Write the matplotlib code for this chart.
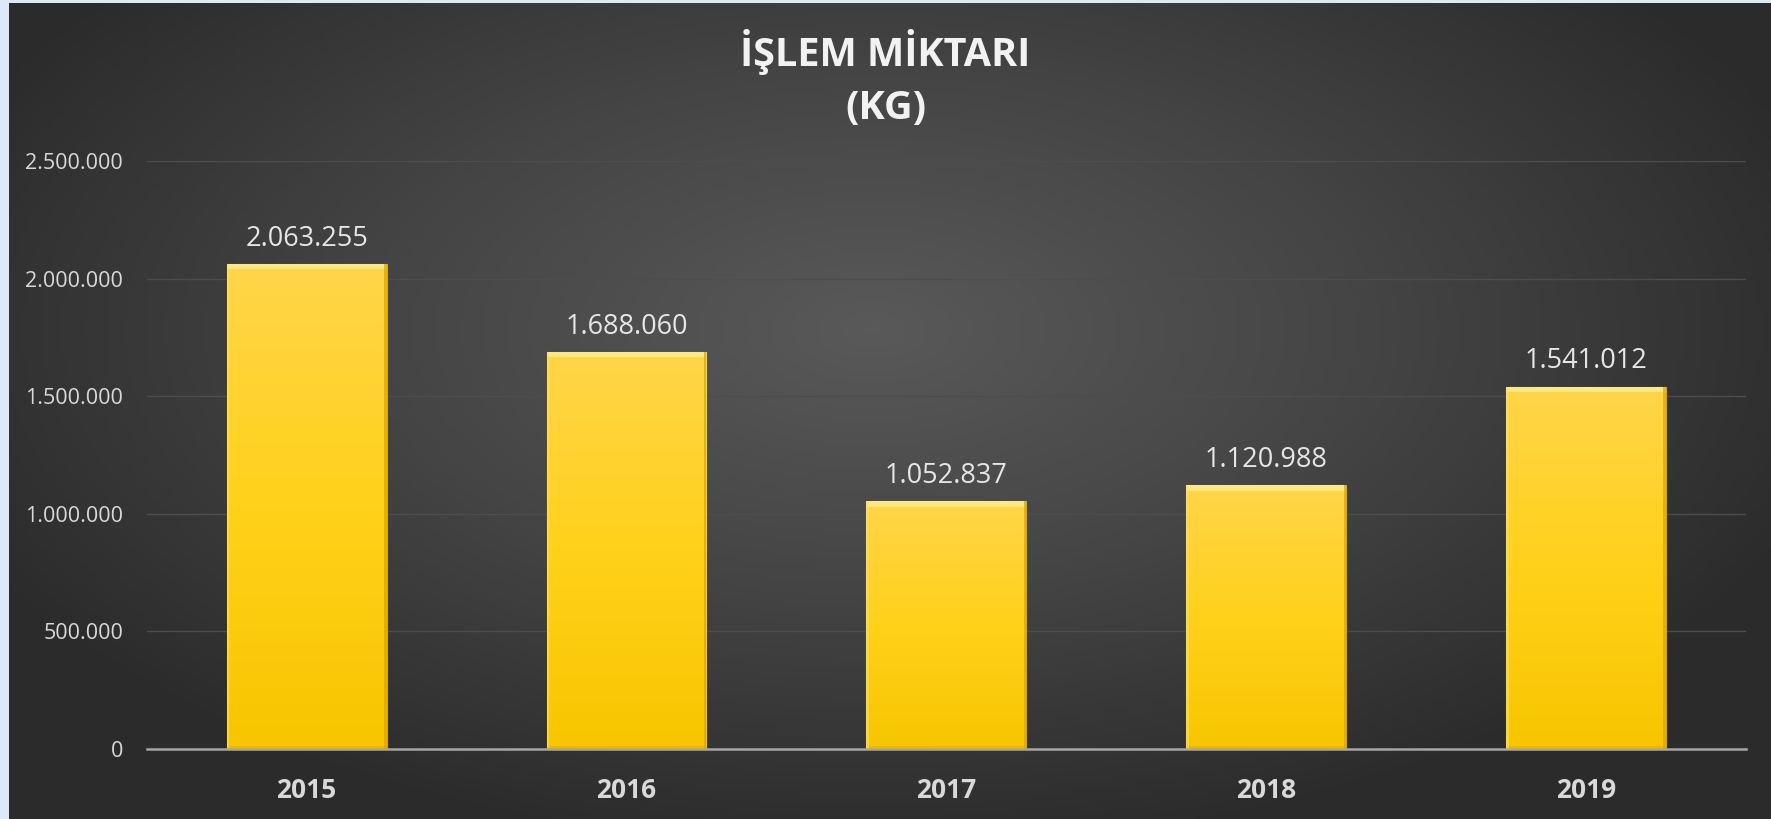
import numpy as np
import matplotlib
matplotlib.use("Agg")
import matplotlib.pyplot as plt
from matplotlib.colors import LinearSegmentedColormap

years = ["2015", "2016", "2017", "2018", "2019"]
amounts = [2063255, 1688060, 1052837, 1120988, 1541012]
yticks = [0, 500000, 1000000, 1500000, 2000000, 2500000]
title = "İŞLEM MİKTARI\n(KG)"

plt.rcParams["font.family"] = ["Open Sans", "DejaVu Sans"]


def tr_fmt(v):
    return f"{int(v):,}".replace(",", ".")


W, H = 1771, 819
fig = plt.figure(figsize=(W / 100, H / 100), dpi=100)
fig.patch.set_facecolor("#dde9f6")

# dark radial gradient background
bg = fig.add_axes([9 / W, 0, 1 - 9 / W, 1 - 3 / H], zorder=-5)
gx, gy = np.meshgrid(np.linspace(-1, 1, 400), np.linspace(-1, 1, 200))
r = np.sqrt(((gx + 0.02) / 1.15) ** 2 + ((gy + 0.2) / 1.3) ** 2)
r = np.clip(r, 0, 1)
bg_cmap = LinearSegmentedColormap.from_list("bg", ["#595959", "#444444", "#2b2b2b"])
bg.imshow(r, cmap=bg_cmap, aspect="auto", extent=[0, 1, 0, 1], origin="upper")
bg.set_axis_off()

ax = fig.add_axes([146.7 / W, 1 - 749 / H, (1746 - 146.7) / W, (749 - 161) / H])
ax.set_facecolor("none")
x = np.arange(len(years))
bars = ax.bar(x, amounts, width=0.5, color="#ffcc00", edgecolor="#d9a800", linewidth=0.8, zorder=3)

bar_cmap = LinearSegmentedColormap.from_list("gold", ["#ffd54a", "#ffd11a", "#f7c600"])
grad = np.linspace(0, 1, 256).reshape(-1, 1)
for b in bars:
    x0, w, h = b.get_x(), b.get_width(), b.get_height()
    im = ax.imshow(grad, cmap=bar_cmap, aspect="auto", extent=[x0, x0 + w, 0, h],
                   origin="upper", zorder=3.5)
    im.set_clip_path(b)
    # bevel edges
    ax.add_patch(plt.Rectangle((x0, h - 22000), w, 22000, facecolor="#ffe97a",
                               edgecolor="none", zorder=4))
    ax.add_patch(plt.Rectangle((x0, 0), w, 14000, facecolor="#e0b000",
                               edgecolor="none", alpha=0.6, zorder=4))
    ax.add_patch(plt.Rectangle((x0 + w - 0.008, 0), 0.008, h, facecolor="#d9a400",
                               edgecolor="none", alpha=0.7, zorder=4))
    ax.add_patch(plt.Rectangle((x0, 0), 0.008, h, facecolor="#ffe066",
                               edgecolor="none", alpha=0.6, zorder=4))
    ax.text(x0 + w / 2, h + 47000, tr_fmt(h), ha="center", va="bottom",
            color="#e6e6e6", fontsize=19.5)

ax.set_xlim(-0.5, len(years) - 0.5)
ax.set_ylim(0, 2500000)
ax.set_yticks(yticks)
ax.set_yticklabels([tr_fmt(v) for v in yticks], color="#d9d9d9", fontsize=15.5)
ax.set_xticks(x)
ax.set_xticklabels(years, color="#d9d9d9", fontsize=19, fontweight="bold")
ax.tick_params(axis="both", length=0)
ax.tick_params(axis="y", pad=17)
ax.tick_params(axis="x", pad=20)
ax.grid(axis="y", color="#4d4d4d", linewidth=1, zorder=0)
for s in ["top", "right", "left"]:
    ax.spines[s].set_visible(False)
ax.spines["bottom"].set_color("#a6a6a6")
ax.spines["bottom"].set_linewidth(1.8)
ax.spines["bottom"].set_zorder(5)

fig.text(0.5, 1 - 78.5 / H, title, ha="center", va="center", color="#f2f2f2",
         fontsize=28.5, fontweight="bold", linespacing=1.44)

fig.savefig("out.png", dpi=100, facecolor=fig.get_facecolor())
